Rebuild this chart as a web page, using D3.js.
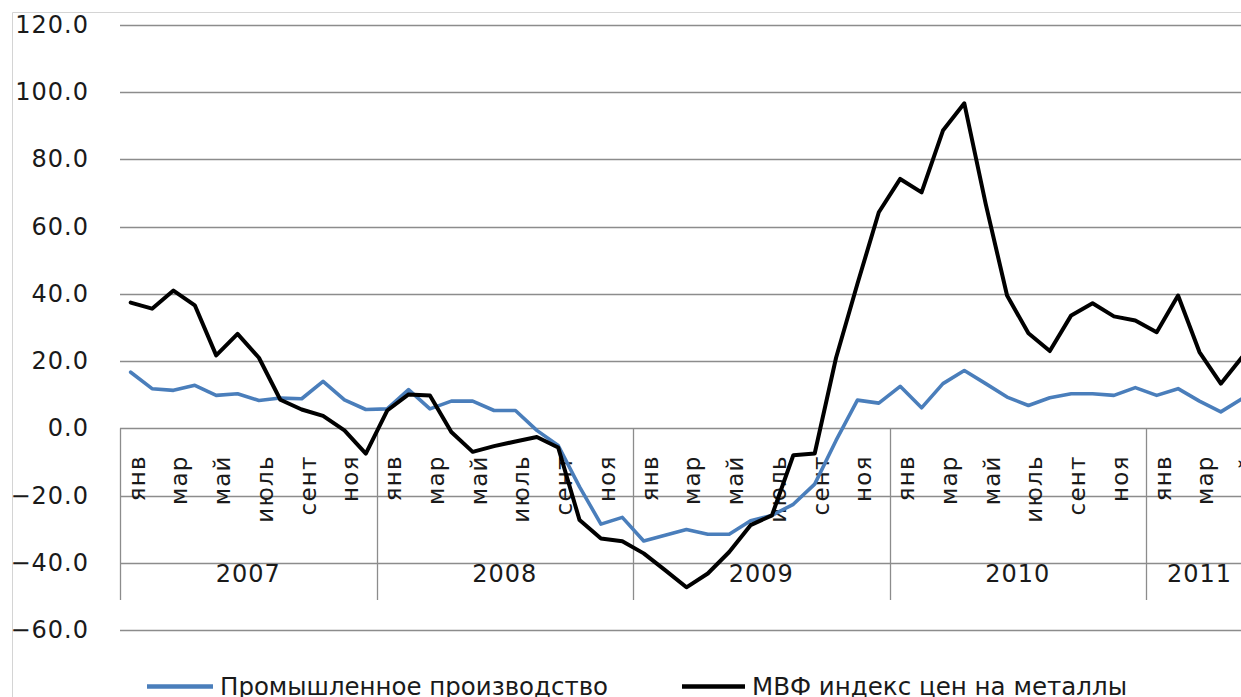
<!DOCTYPE html>
<html>
<head>
<meta charset="utf-8">
<script src="https://cdn.jsdelivr.net/npm/d3@7"></script>
<style>
  html, body { margin: 0; padding: 0; background: #fff; overflow: hidden; }
  svg { display: block; }
  text { font-family: "DejaVu Sans", sans-serif; fill: #1a1a1a; }
</style>
</head>
<body>
<svg id="chart" width="1241" height="697"></svg>
<script>
// ---- data ----
const years = ["2007", "2008", "2009", "2010", "2011"];
const monthsPerYear = [12, 12, 12, 12, 5];
const monthNames = ["янв","фев","мар","апр","май","июнь","июль","авг","сент","окт","ноя","дек"];
const shownMonths = ["янв","мар","май","июль","сент","ноя"];
const yTicks = [-60, -40, -20, 0, 20, 40, 60, 80, 100, 120];

const industry = [
  16.7, 11.8, 11.3, 12.8, 9.8, 10.3, 8.3, 9.0, 8.8, 14.0, 8.5, 5.6,
  5.8, 11.5, 5.8, 8.1, 8.1, 5.3, 5.3, -0.6, -5.1, -17.4, -28.5, -26.5,
  -33.5, -31.8, -30.1, -31.5, -31.5, -27.5, -25.9, -22.6, -16.6, -3.6, 8.4, 7.5,
  12.5, 6.1, 13.3, 17.2, 13.3, 9.3, 6.8, 9.1, 10.3, 10.3, 9.8, 12.1,
  9.8, 11.8, 8.1, 4.9, 8.8
];
const metals = [
  37.4, 35.6, 41.0, 36.6, 21.7, 28.1, 21.0, 8.5, 5.6, 3.7, -0.6, -7.5,
  5.3, 10.1, 9.8, -1.1, -7.0, -5.3, -3.9, -2.6, -5.7, -27.3, -32.8, -33.6,
  -37.2, -42.2, -47.3, -43.2, -36.8, -28.8, -25.9, -8.0, -7.5, 21.0, 43.0, 64.3,
  74.2, 70.2, 88.6, 96.7, 66.8, 39.5, 28.3, 23.0, 33.6, 37.2, 33.3, 32.1,
  28.6, 39.5, 22.7, 13.3, 21.2
];
const seriesNames = ["Промышленное производство", "МВФ индекс цен на металлы"];
const seriesColors = ["#4a7ebb", "#000000"];

// categories built from years and month names
const categories = [];
years.forEach((yr, yi) => {
  for (let m = 0; m < monthsPerYear[yi]; m++) {
    categories.push({ key: yr + "-" + m, year: yr, month: monthNames[m] });
  }
});

// ---- layout ----
const svg = d3.select("#chart");
const left = 120, monthW = 21.375;
const right = left + categories.length * monthW;
const yTop = 25, yBottom = 630;

const x = d3.scaleBand().domain(categories.map(d => d.key)).range([left, right]).padding(0);
const xc = k => x(k) + x.bandwidth() / 2;
const y = d3.scaleLinear().domain([-60, 120]).range([yBottom, yTop]);

// outer frame
svg.append("path")
  .attr("d", `M12.5,697 L12.5,12.5 L1241,12.5`)
  .attr("fill", "none").attr("stroke", "#d4d4d4").attr("stroke-width", 1);

// gridlines
svg.append("g").selectAll("line").data(yTicks).join("line")
  .attr("x1", left).attr("x2", 1241)
  .attr("y1", d => Math.round(y(d)) + 0.5).attr("y2", d => Math.round(y(d)) + 0.5)
  .attr("stroke", "#8c8c8c").attr("stroke-width", 1.3);

// y tick labels
svg.append("g").selectAll("text").data(yTicks).join("text")
  .attr("x", 89).attr("y", d => y(d))
  .attr("text-anchor", "end").attr("dominant-baseline", "central")
  .attr("font-size", 24).attr("letter-spacing", 1)
  .text(d => d3.format(".1f")(d));

// category axis box: vertical separators
const y0 = y(0);
const boundaries = [0];
let acc = 0;
monthsPerYear.forEach(n => { acc += n; boundaries.push(acc); });
const sepIdx = boundaries.slice(0, -1);
svg.append("g").selectAll("line").data(sepIdx).join("line")
  .attr("x1", d => Math.round(x(categories[d].key)) + 0.5)
  .attr("x2", d => Math.round(x(categories[d].key)) + 0.5)
  .attr("y1", y0).attr("y2", 600)
  .attr("stroke", "#8c8c8c").attr("stroke-width", 1.3);

// month labels
svg.append("g").selectAll("text")
  .data(categories.filter(d => shownMonths.includes(d.month)))
  .join("text")
  .attr("transform", d => `translate(${xc(d.key) + 6},${y0 + 27}) rotate(-90)`)
  .attr("text-anchor", "end").attr("dominant-baseline", "central")
  .attr("font-size", 23).attr("letter-spacing", 1.2)
  .text(d => d.month);

// year labels
svg.append("g").selectAll("text").data(years).join("text")
  .attr("x", (d, i) => {
    const a = x(categories[boundaries[i]].key);
    const b = boundaries[i + 1] < categories.length ? x(categories[boundaries[i + 1]].key) : right;
    return (a + b) / 2;
  })
  .attr("y", 574).attr("text-anchor", "middle").attr("dominant-baseline", "central")
  .attr("font-size", 24).attr("letter-spacing", 1)
  .text(d => d);

// lines
const line = d3.line().x((d, i) => xc(categories[i].key)).y(d => y(d));
[industry, metals].forEach((s, i) => {
  svg.append("path").datum(s)
    .attr("d", line)
    .attr("fill", "none")
    .attr("stroke", seriesColors[i])
    .attr("stroke-width", i === 0 ? 3.6 : 4)
    .attr("stroke-linejoin", "round").attr("stroke-linecap", "round");
});

// legend
const legend = [
  { x1: 147, x2: 213, tx: 220, tw: 388 },
  { x1: 682, x2: 745, tx: 752, tw: 375 }
];
legend.forEach((l, i) => {
  svg.append("line").attr("x1", l.x1).attr("x2", l.x2).attr("y1", 686.5).attr("y2", 686.5)
    .attr("stroke", seriesColors[i]).attr("stroke-width", 4.5);
  svg.append("text").attr("x", l.tx).attr("y", 695)
    .attr("font-size", 24).attr("textLength", l.tw).attr("lengthAdjust", "spacingAndGlyphs")
    .text(seriesNames[i]);
});
</script>
</body>
</html>
